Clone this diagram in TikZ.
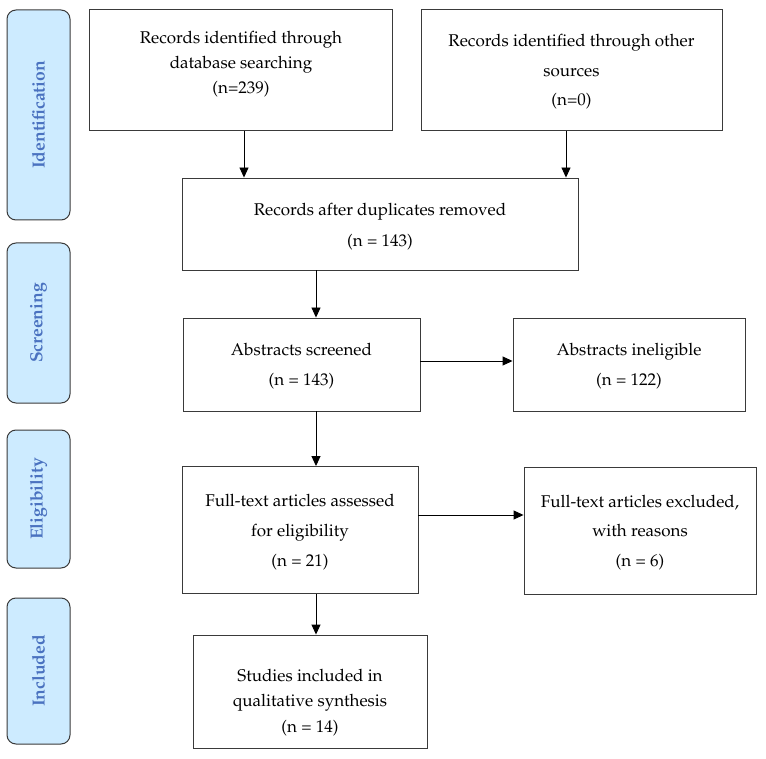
\documentclass[tikz,border=0pt]{standalone}
\usepackage[T1]{fontenc}
\usepackage{mathpazo}
\usetikzlibrary{arrows.meta}
\definecolor{sidefill}{HTML}{CDEBFF}
\definecolor{sidetext}{HTML}{4A72C0}
\definecolor{edge}{HTML}{3A3A3A}
\newcommand{\dn}[1]{\rule[-#1]{0pt}{#1}}
\newcommand{\tp}[1]{\rule{0pt}{#1}}
\begin{document}
\begin{tikzpicture}[x=1pt,y=-1pt,
  box/.style={draw=edge,line width=0.9pt,align=center,inner sep=0pt,font=\fontsize{17}{29.5}\selectfont},
  side/.style={draw=edge,fill=sidefill,line width=1pt,rounded corners=9pt,inner sep=0pt},
  sidelabel/.style={rotate=90,text=sidetext,font=\fontsize{17.5}{20}\selectfont\bfseries},
  arr/.style={-{Triangle[length=10pt,width=9pt]},line width=0.9pt,draw=black}]
\useasboundingbox (0,0) rectangle (766,759);
% side phases
\node[side,minimum width=63pt,minimum height=210pt] (s1) at (38.5,115) {};
\node[sidelabel] at (s1) {Identification};
\node[side,minimum width=63pt,minimum height=160pt] (s2) at (38.5,323) {};
\node[sidelabel] at (s2) {Screening};
\node[side,minimum width=63pt,minimum height=138pt] (s3) at (38.5,499) {};
\node[sidelabel] at (s3) {Eligibility};
\node[side,minimum width=63pt,minimum height=146pt] (s4) at (38.5,671) {};
\node[sidelabel] at (s4) {Included};
% boxes
\node[box,font=\fontsize{17}{25}\selectfont,minimum width=303pt,minimum height=121pt] (b1) at (241,70) {Records identified through\\database searching\\(n=239)\dn{16pt}};
\node[box,minimum width=301pt,minimum height=121pt] (b2) at (571.5,70) {\tp{16.5pt}Records identified through other\\sources\\(n=0)};
\node[box,font=\fontsize{17}{31}\selectfont,minimum width=396pt,minimum height=92pt] (b3) at (380,224) {\tp{18.5pt}Records after duplicates removed\\(n = 143)};
\node[box,font=\fontsize{17}{30}\selectfont,minimum width=237pt,minimum height=93pt] (b4) at (301.5,364.5) {\tp{16.5pt}Abstracts screened\\(n = 143)};
\node[box,font=\fontsize{17}{30}\selectfont,minimum width=232pt,minimum height=93pt] (b5) at (629,364.5) {\tp{16.5pt}Abstracts ineligible\\(n = 122)};
\node[box,font=\fontsize{17}{30}\selectfont,minimum width=236pt,minimum height=127pt] (b6) at (300,530) {\tp{16.5pt}Full-text articles assessed\\for eligibility\\(n = 21)};
\node[box,minimum width=232pt,minimum height=127pt] (b7) at (640,530.5) {\tp{16.5pt}Full-text articles excluded,\\with reasons\\(n = 6)};
\node[box,font=\fontsize{17}{25.5}\selectfont,minimum width=234pt,minimum height=113pt] (b8) at (310,691.5) {\tp{34pt}Studies included in\\qualitative synthesis\\(n = 14)};
% arrows
\draw[arr] (b1.south -| 244,0) -- (b3.north -| 244,0);
\draw[arr] (b2.south -| 566,0) -- (b3.north -| 566,0);
\draw[arr] (b3.south -| 316,0) -- (b4.north -| 316,0);
\draw[arr] (b4.east |- 0,361) -- (b5.west |- 0,361);
\draw[arr] (b4.south -| 316,0) -- (b6.north -| 316,0);
\draw[arr] (b6.east |- 0,515) -- (b7.west |- 0,515);
\draw[arr] (b6.south -| 316,0) -- (b8.north -| 316,0);
\end{tikzpicture}
\end{document}
